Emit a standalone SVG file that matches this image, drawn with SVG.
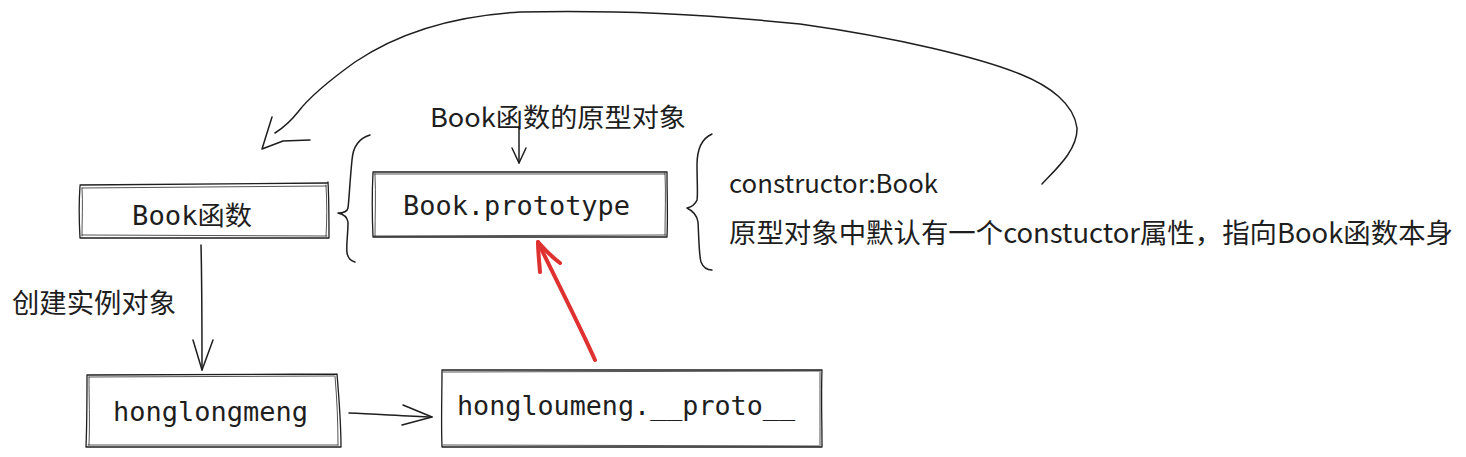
<svg xmlns="http://www.w3.org/2000/svg" width="1466" height="457" viewBox="0 0 1466 457">
<defs>
<style>
.box{fill:none;stroke:#1e1e1e;stroke-width:1.3;stroke-linecap:round;stroke-linejoin:round}
.box2{fill:none;stroke:#1e1e1e;stroke-width:0.9;stroke-linecap:round;opacity:0.85}
.ln{fill:none;stroke:#1e1e1e;stroke-width:1.5;stroke-linecap:round;stroke-linejoin:round}
.red{fill:none;stroke:#e03131;stroke-width:4;stroke-linecap:round;stroke-linejoin:round}
.mono{font-family:"DejaVu Sans Mono","Liberation Mono","Noto Sans CJK SC",monospace;font-size:26px;fill:#1e1e1e}
.sans{font-family:"Noto Sans CJK SC","Noto Sans",sans-serif;fill:#1e1e1e}
</style>
</defs>
<rect width="1466" height="457" fill="#ffffff"/>

<g id="node-book-fn">
<path class="box" d="M80 185 L327 183 M328 182 C329 200 329 220 329 238 M329 238 L80 238 M80 238 C79 220 79 200 80 186"/>
<path class="box2" d="M82 188 L326 186 M326 185 C327 203 327 220 326 236 M327 236 L82 235 M82 236 C82 220 83 203 82 188"/>
<text class="mono" x="132" y="225" textLength="120" lengthAdjust="spacingAndGlyphs">Book函数</text>
</g>

<g id="node-book-prototype">
<path class="box" d="M373 172 L667 172 M667 172 C667 195 668 215 667 237 M667 237 L373 237 M373 237 C372 215 372 193 373 172"/>
<path class="box2" d="M374 174 L665 174 M665 173 C666 195 665 215 665 235 M666 235 L374 236 M375 236 C375 215 376 195 375 174"/>
<text class="mono" x="403" y="215" textLength="227" lengthAdjust="spacingAndGlyphs">Book.prototype</text>
</g>

<g id="node-honglongmeng">
<path class="box" d="M87 375 L337 374 M337 374 C339 398 341 422 341 447 M341 447 L86 447 M86 447 C87 422 87 398 87 375"/>
<path class="box2" d="M89 377 L334 376 M335 376 C337 400 338 422 338 445 M338 445 L88 445 M89 445 C90 420 89 398 89 377"/>
<text class="mono" x="113" y="421" textLength="195" lengthAdjust="spacingAndGlyphs">honglongmeng</text>
</g>

<g id="node-proto">
<path class="box" d="M442 370 L822 370 M822 370 C821 395 822 420 822 447 M822 447 L442 447 M442 447 C441 420 442 395 442 370"/>
<path class="box2" d="M443 372 L820 371 M820 372 C820 395 820 420 820 445 M820 446 L443 445"/>
<text class="mono" x="457" y="415" textLength="338" lengthAdjust="spacingAndGlyphs">hongloumeng.__proto__</text>
</g>

<g id="labels">
<text class="sans" x="430" y="127" font-size="26" textLength="256" lengthAdjust="spacingAndGlyphs">Book函数的原型对象</text>
<text class="sans" x="12" y="313" font-size="27" textLength="164" lengthAdjust="spacingAndGlyphs">创建实例对象</text>
<text class="sans" x="729" y="193" font-size="25" textLength="209" lengthAdjust="spacingAndGlyphs">constructor:Book</text>
<text class="sans" x="729" y="243" font-size="27" textLength="724" lengthAdjust="spacingAndGlyphs">原型对象中默认有一个constuctor属性，指向Book函数本身</text>
</g>

<g id="braces">
<path class="ln" d="M370 135 C360 138 353 146 352 160 C350 180 349 200 348 208 C347 212 343 213 338 213 C343 214 347 216 348 222 C348 235 346 245 347 253 C348 258 351 261 355 262"/>
<path class="ln" d="M712 134 C703 138 697 148 697 165 C697 180 698 195 697 200 C695 205 691 207 687 208 C691 210 697 214 698 222 C699 240 699 255 701 262 C703 267 707 270 712 270"/>
</g>

<g id="connectors">
<path class="ln" d="M201 245 C202 285 202 330 202 370"/>
<path class="ln" d="M193 340 L202 370 L213 340"/>
<path class="ln" d="M519 128 L519 163"/>
<path class="ln" d="M512 148 L519 163 L526 148"/>
<path class="ln" d="M349 413 C375 414 405 416 432 417"/>
<path class="ln" d="M403 405 L432 417 L402 425"/>
<path class="red" d="M595 360 C578 322 556 280 538 242"/>
<path class="red" d="M540 272 C539 260 538 250 538 242 C545 250 552 257 560 263"/>
<path class="ln" d="M1042 184 C1055 170 1078 150 1077 128 C1074 104 1050 86 1020 74 C980 58 900 38 800 24 C700 14 620 10 520 12 C450 16 395 35 355 62 C330 80 310 96 298 112 C290 122 283 128 275 133"/>
<path class="ln" d="M272 117 L262 149 L283 141 L310 140"/>
</g>
</svg>
